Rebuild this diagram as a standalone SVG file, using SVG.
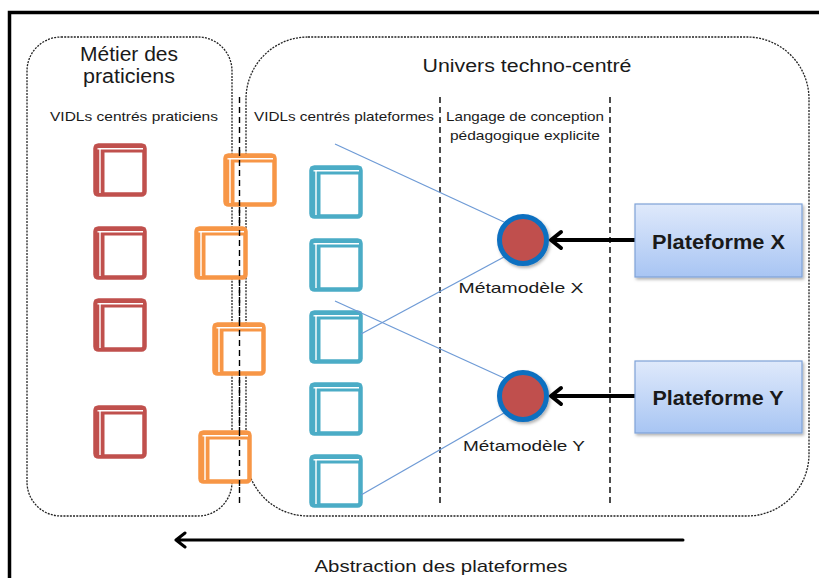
<svg xmlns="http://www.w3.org/2000/svg" width="819" height="578" viewBox="0 0 819 578">
<style>
text{font-family:"Liberation Sans",Arial,sans-serif;fill:#1a1a1a}
.zone{fill:none;stroke:#222;stroke-width:1.3;stroke-dasharray:2 1.2}
.sep{stroke:#000;stroke-width:1.4;stroke-dasharray:6 4;fill:none}
.link{stroke:#6f9bd6;stroke-width:1.3;fill:none}
.arr{stroke:#000;fill:none;stroke-linecap:round;stroke-linejoin:round}
.plat{fill:url(#pg);stroke:#7fa2d8;stroke-width:1.2}
.mm{fill:#c0504d;stroke:#0f6fc0;stroke-width:5}
.red{color:#c0504d}.org{color:#f79646}.teal{color:#4bacc6}
</style>
<defs>
<linearGradient id="pg" x1="0" y1="0" x2="0" y2="1"><stop offset="0" stop-color="#dfe9fb"/><stop offset="1" stop-color="#a8c5f3"/></linearGradient>
<filter id="sh" x="-20%" y="-20%" width="140%" height="140%"><feDropShadow dx="1.5" dy="2" stdDeviation="1.5" flood-color="#000" flood-opacity="0.3"/></filter>
<symbol id="win" viewBox="0 0 54 54">
<rect x="2.5" y="2.5" width="49" height="49" rx="3" fill="#fff" stroke="currentColor" stroke-width="4.5"/>
<path d="M1.5 1.5 H52.5 V9.5 H11.5 V52.5 H1.5 Z" fill="currentColor"/>
<path d="M7 50 V5.8 H50" fill="none" stroke="#fff" stroke-width="1.4"/>
<path d="M4.5 5.8 H7.5" fill="none" stroke="#fff" stroke-width="1.4"/>
</symbol>
</defs>
<path d="M9.5 580 V12.5 H822" fill="none" stroke="#000" stroke-width="3.5"/>
<g id="zone-metier">
<rect class="zone" x="27" y="37" width="205" height="479" rx="34"/>
<text x="129" y="61" font-size="20" text-anchor="middle" textLength="98" lengthAdjust="spacingAndGlyphs">Métier des</text>
<text x="129" y="83" font-size="20" text-anchor="middle" textLength="92" lengthAdjust="spacingAndGlyphs">praticiens</text>
<text x="134" y="121" font-size="13" text-anchor="middle" textLength="168" lengthAdjust="spacingAndGlyphs">VIDLs centrés praticiens</text>
</g>
<g id="zone-univers">
<rect class="zone" x="246" y="37" width="563" height="479" rx="62"/>
<text x="527" y="72" font-size="18" text-anchor="middle" textLength="209" lengthAdjust="spacingAndGlyphs">Univers techno-centré</text>
<text x="344" y="121" font-size="13" text-anchor="middle" textLength="180" lengthAdjust="spacingAndGlyphs">VIDLs centrés plateformes</text>
<text x="525" y="121" font-size="13" text-anchor="middle" textLength="158" lengthAdjust="spacingAndGlyphs">Langage de conception</text>
<text x="525" y="140" font-size="13" text-anchor="middle" textLength="150" lengthAdjust="spacingAndGlyphs">pédagogique explicite</text>
</g>
<g id="separators">
<line class="sep" x1="239.5" y1="97" x2="239.5" y2="505"/>
<line class="sep" x1="440" y1="97" x2="440" y2="505"/>
<line class="sep" x1="610" y1="97" x2="610" y2="505"/>
</g>
<g id="vidl-praticiens">
<use href="#win" class="red" x="93" y="143" width="54" height="54"/>
<use href="#win" class="red" x="93" y="226" width="54" height="54"/>
<use href="#win" class="red" x="93" y="298" width="54" height="54"/>
<use href="#win" class="red" x="93" y="405" width="54" height="54"/>
</g>
<g id="vidl-passerelle">
<use href="#win" class="org" x="223" y="153" width="54" height="54"/>
<use href="#win" class="org" x="194" y="226" width="54" height="54"/>
<use href="#win" class="org" x="212" y="322" width="54" height="54"/>
<use href="#win" class="org" x="198" y="430" width="54" height="54"/>
</g>
<g id="separator-overlay">
<line class="sep" x1="239.5" y1="150" x2="239.5" y2="490"/>
</g>
<g id="vidl-plateformes">
<use href="#win" class="teal" x="309" y="165" width="54" height="54"/>
<use href="#win" class="teal" x="309" y="238" width="54" height="54"/>
<use href="#win" class="teal" x="309" y="310" width="54" height="54"/>
<use href="#win" class="teal" x="309" y="382" width="54" height="54"/>
<use href="#win" class="teal" x="309" y="454" width="54" height="54"/>
</g>
<g id="connectors">
<line class="link" x1="335" y1="144" x2="504" y2="222"/>
<line class="link" x1="361" y1="334" x2="504" y2="257"/>
<line class="link" x1="335" y1="301" x2="504" y2="378"/>
<line class="link" x1="361" y1="495" x2="504" y2="413"/>
<path class="arr" stroke-width="4" d="M635 240 H552 M561 232 L551 240 L561 248"/>
<path class="arr" stroke-width="4" d="M635 396 H552 M561 388 L551 396 L561 404"/>
<path class="arr" stroke-width="3" d="M683 540 H176 M185 533 L176 540 L185 547"/>
</g>
<g id="metamodele-x">
<circle class="mm" cx="523" cy="240" r="23.5" filter="url(#sh)"/>
<text x="521" y="293" font-size="15" text-anchor="middle" textLength="125" lengthAdjust="spacingAndGlyphs">Métamodèle X</text>
</g>
<g id="metamodele-y">
<circle class="mm" cx="523" cy="396" r="23.5" filter="url(#sh)"/>
<text x="524" y="451" font-size="15" text-anchor="middle" textLength="122" lengthAdjust="spacingAndGlyphs">Métamodèle Y</text>
</g>
<g id="plateforme-x">
<rect class="plat" x="635" y="204" width="167" height="73" filter="url(#sh)"/>
<text x="718.5" y="249" font-size="20" font-weight="bold" text-anchor="middle" textLength="133" lengthAdjust="spacingAndGlyphs">Plateforme X</text>
</g>
<g id="plateforme-y">
<rect class="plat" x="635" y="361" width="167" height="72" filter="url(#sh)"/>
<text x="718" y="405" font-size="20" font-weight="bold" text-anchor="middle" textLength="131" lengthAdjust="spacingAndGlyphs">Plateforme Y</text>
</g>
<text x="441" y="572" font-size="17" text-anchor="middle" textLength="253" lengthAdjust="spacingAndGlyphs">Abstraction des plateformes</text>
</svg>
